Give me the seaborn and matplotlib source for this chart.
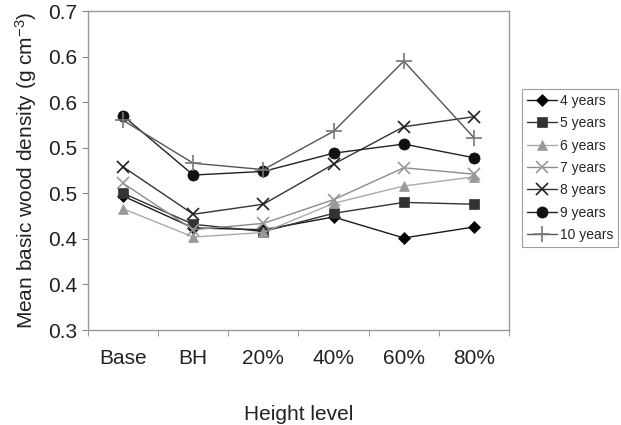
import numpy as np
import matplotlib
matplotlib.use("Agg")
import matplotlib.pyplot as plt
import seaborn as sns

heights = ["Base", "BH", "20%", "40%", "60%", "80%"]
ages = ["4 years", "5 years", "6 years", "7 years", "8 years", "9 years", "10 years"]

y4 = [0.447, 0.412, 0.410, 0.424, 0.401, 0.413]
y5 = [0.450, 0.416, 0.408, 0.428, 0.440, 0.438]
y6 = [0.433, 0.402, 0.407, 0.439, 0.458, 0.468]
y7 = [0.461, 0.410, 0.417, 0.443, 0.478, 0.471]
y8 = [0.479, 0.427, 0.438, 0.482, 0.523, 0.534]
y9 = [0.535, 0.470, 0.474, 0.494, 0.504, 0.489]
y10 = [0.530, 0.483, 0.476, 0.518, 0.595, 0.511]

yticks = [0.30, 0.35, 0.40, 0.45, 0.50, 0.55, 0.60, 0.65]
ytick_labels = ["0.3", "0.4", "0.4", "0.5", "0.5", "0.6", "0.6", "0.7"]

sns.set_style("white")
plt.rcParams['font.family'] = ['Liberation Sans', 'DejaVu Sans']
plt.rcParams['mathtext.default'] = 'regular'

# marker, marker colour, line colour, marker size
styles = {
    "4 years": ("D", "#000000", "#1a1a1a", 6),
    "5 years": ("s", "#333333", "#333333", 7),
    "6 years": ("^", "#999999", "#aaaaaa", 7),
    "7 years": ("x", "#999999", "#8c8c8c", 9),
    "8 years": ("x", "#222222", "#333333", 9),
    "9 years": ("o", "#111111", "#222222", 8),
    "10 years": ("+", "#777777", "#555555", 11),
}
series = [y4, y5, y6, y7, y8, y9, y10]

fig = plt.figure(figsize=(6.21, 4.25), dpi=100)
ax = fig.add_axes([88 / 621, 1 - 330 / 425, (509 - 88) / 621, (330 - 11) / 425])

for age, vals in zip(ages, series):
    m, mc, lc, ms = styles[age]
    sns.lineplot(x=heights, y=vals, ax=ax, sort=False, label=age,
                 color=lc, linewidth=1, marker=m, markersize=ms,
                 markerfacecolor=mc, markeredgecolor=mc,
                 markeredgewidth=1.2 if m in ("x", "+") else 0.5)

ax.set_xlim(-0.5, 5.5)
ax.set_ylim(0.30, 0.65)
ax.set_yticks(yticks)
ax.set_yticklabels(ytick_labels)
ax.set_xticks(range(len(heights)))
ax.set_xticklabels(heights)
ax.set_xticks(np.arange(-0.5, 6.0, 1.0), minor=True)
ax.tick_params(axis='x', which='major', length=0, pad=14, labelsize=15, labelcolor='#222222')
ax.tick_params(axis='x', which='minor', length=4, color='#888888', direction='out', bottom=True)
ax.tick_params(axis='y', length=4, color='#888888', direction='out', left=True,
               labelsize=15, labelcolor='#222222', pad=4)

for s in ax.spines.values():
    s.set_color('#999999')
    s.set_linewidth(1)

ax.set_xlabel("Height level", fontsize=15, color='#222222', labelpad=26)
ax.set_ylabel("Mean basic wood density (g cm$^{-3}$)", fontsize=15, color='#222222', labelpad=6)

leg = ax.legend(loc='upper left', bbox_to_anchor=(522 / 621, 1 - 89 / 425),
                bbox_transform=fig.transFigure, fontsize=10, frameon=True,
                fancybox=False, edgecolor='#888888', handlelength=2.2,
                handletextpad=0.2, labelspacing=0.6, borderpad=0.35,
                borderaxespad=0)
leg.get_frame().set_linewidth(0.8)

fig.savefig("out.png", dpi=100)
